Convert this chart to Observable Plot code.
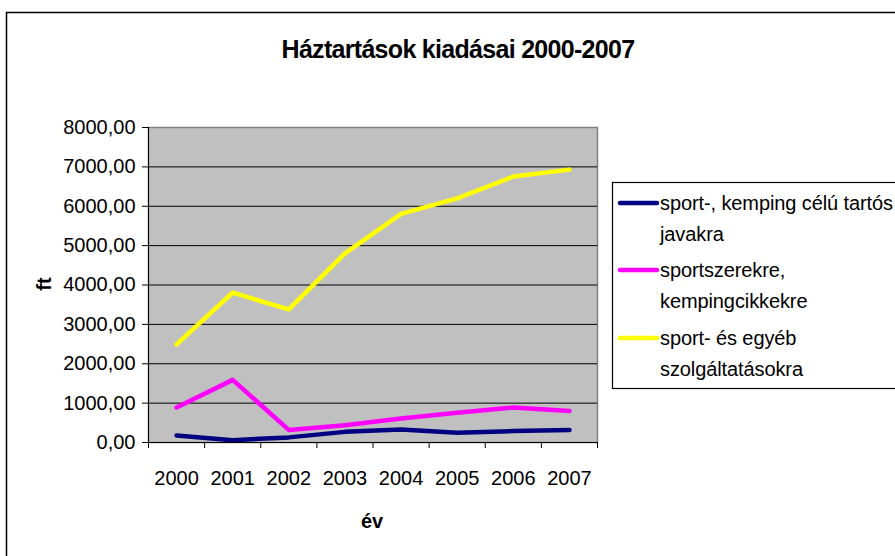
<!DOCTYPE html>
<html>
<head>
<meta charset="utf-8">
<script src="https://cdn.jsdelivr.net/npm/d3@7"></script>
<script src="https://cdn.jsdelivr.net/npm/@observablehq/plot@0.6"></script>
<style>
  html, body { margin: 0; padding: 0; background: #fff; }
  #chart { width: 895px; height: 556px; }
</style>
</head>
<body>
<div id="chart"></div>
<script>
const years = [2000, 2001, 2002, 2003, 2004, 2005, 2006, 2007];
const tartos = [180, 60, 130, 270, 330, 245, 290, 320];
const sportszer = [890, 1590, 320, 440, 610, 755, 890, 800];
const szolg = [2490, 3805, 3380, 4805, 5805, 6200, 6755, 6930];
const yTicks = [0, 1000, 2000, 3000, 4000, 5000, 6000, 7000, 8000];
const seriesNames = [
  ["sport-, kemping célú tartós", "javakra"],
  ["sportszerekre,", "kempingcikkekre"],
  ["sport- és egyéb", "szolgáltatásokra"]
];
const seriesColors = ["#000080", "#FF00FF", "#FFFF00"];
const title = "Háztartások kiadásai 2000-2007";
const xTitle = "év";
const yTitle = "ft";

const seriesValues = [tartos, sportszer, szolg];
const rows = [];
seriesValues.forEach((vals, si) => {
  vals.forEach((v, i) => rows.push({year: years[i], value: v, series: si}));
});
const boundaries = years.map(y => y - 0.5).concat([years[years.length - 1] + 0.5]);
const fmt = v => d3.format(".2f")(v).replace(".", ",");

const W = 895, H = 556;
const mL = 148, mR = 298, mT = 127, mB = 114;

const chart = Plot.plot({
  width: W,
  height: H,
  marginLeft: mL,
  marginRight: mR,
  marginTop: mT,
  marginBottom: mB,
  style: {fontFamily: "'Liberation Sans', Arial, sans-serif", fontSize: "20px", color: "#000", background: "transparent"},
  x: {domain: [years[0] - 0.5, years[years.length - 1] + 0.5], axis: null},
  y: {domain: [0, 8000], axis: null},
  marks: [
    Plot.frame({fill: "#C0C0C0", stroke: "#808080", strokeWidth: 1.5}),
    Plot.ruleY(yTicks.slice(1, -1), {stroke: "#000", strokeWidth: 1}),
    ...seriesValues.map((vals, si) =>
      Plot.lineY(rows.filter(r => r.series === si), {
        x: "year", y: "value", stroke: seriesColors[si], strokeWidth: 4.5,
        strokeLinecap: "round", strokeLinejoin: "round"
      })
    ),
    Plot.ruleX([years[0] - 0.5], {stroke: "#000", strokeWidth: 1}),
    Plot.ruleY([0], {stroke: "#000", strokeWidth: 1}),
    Plot.axisY({ticks: yTicks, tickFormat: fmt, tickSize: 6, tickPadding: 7, label: null, stroke: "#000", fontSize: 20}),
    Plot.axisX({ticks: boundaries, tickFormat: () => "", tickSize: 6, label: null, stroke: "#000"}),
    Plot.axisX({ticks: years, tickFormat: d => String(d), tickSize: 0, tickPadding: 28, label: null, fontSize: 20})
  ]
});

document.getElementById("chart").appendChild(chart);
const svg = d3.select(chart);
svg.style("overflow", "hidden");

// outer chart frame
svg.append("rect")
  .attr("x", 6.5).attr("y", 12.5).attr("width", W + 10).attr("height", H + 10)
  .attr("fill", "none").attr("stroke", "#000").attr("stroke-width", 1.5);

// title
svg.append("text")
  .attr("x", 458).attr("y", 58)
  .attr("text-anchor", "middle")
  .attr("font-size", 25).attr("font-weight", "bold")
  .attr("letter-spacing", "-0.7")
  .attr("fill", "#000")
  .text(title);

// axis titles
svg.append("text")
  .attr("x", 372).attr("y", 528)
  .attr("text-anchor", "middle")
  .attr("font-size", 20).attr("font-weight", "bold")
  .attr("fill", "#000")
  .text(xTitle);
svg.append("text")
  .attr("transform", "translate(51,284) rotate(-90)")
  .attr("text-anchor", "middle")
  .attr("font-size", 20).attr("font-weight", "bold")
  .attr("fill", "#000")
  .text(yTitle);

// legend
const lg = svg.append("g").attr("text-anchor", "start");
lg.append("rect")
  .attr("x", 612.5).attr("y", 182.5).attr("width", 300).attr("height", 206)
  .attr("fill", "#fff").attr("stroke", "#000").attr("stroke-width", 1.2);
const legendY = [203, 270, 338];
seriesNames.forEach((lines, i) => {
  lg.append("line")
    .attr("x1", 620).attr("x2", 657)
    .attr("y1", legendY[i]).attr("y2", legendY[i])
    .attr("stroke", seriesColors[i]).attr("stroke-width", 4.5)
    .attr("stroke-linecap", "round");
  lines.forEach((t, j) => {
    lg.append("text")
      .attr("x", 660).attr("y", legendY[i] + 7 + j * 31)
      .attr("text-anchor", "start")
      .attr("font-size", 20)
      .attr("letter-spacing", "-0.1")
      .attr("fill", "#000")
      .text(t);
  });
});
</script>
</body>
</html>
